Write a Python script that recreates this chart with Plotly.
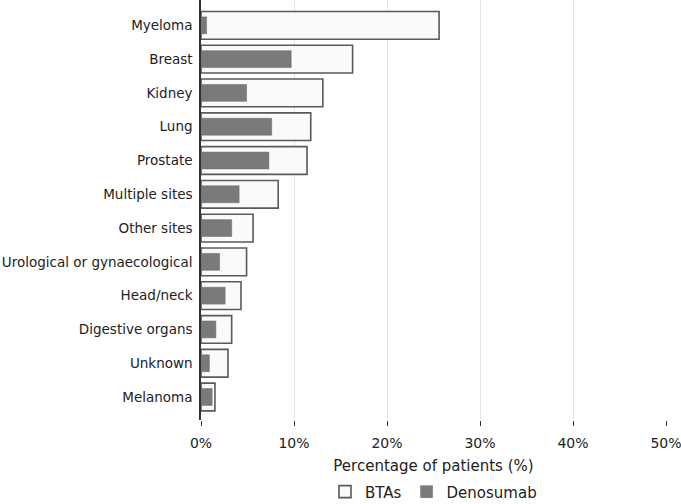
import plotly.graph_objects as go

categories = ["Myeloma", "Breast", "Kidney", "Lung", "Prostate", "Multiple sites",
              "Other sites", "Urological or gynaecological", "Head/neck",
              "Digestive organs", "Unknown", "Melanoma"]
btas = [25.6, 16.3, 13.1, 11.8, 11.4, 8.3, 5.6, 4.9, 4.3, 3.3, 2.9, 1.5]
denosumab = [0.6, 9.7, 4.9, 7.6, 7.3, 4.1, 3.3, 2.0, 2.6, 1.6, 0.9, 1.2]
x_ticks = [0, 10, 20, 30, 40, 50]
x_tick_labels = ["0%", "10%", "20%", "30%", "40%", "50%"]

cats_r = categories[::-1]
btas_r = btas[::-1]
den_r = denosumab[::-1]

fig = go.Figure()
fig.add_trace(go.Bar(
    y=cats_r, x=btas_r, orientation="h", name="BTAs", width=0.82,
    marker=dict(color="#fafafa", line=dict(color="#5a5a5a", width=1.6)),
))
fig.add_trace(go.Bar(
    y=cats_r, x=den_r, orientation="h", name="Denosumab", width=0.5,
    marker=dict(color="#7a7a7a", line=dict(color="#6a6a6a", width=0.5)),
))

fig.update_layout(
    width=681, height=504,
    barmode="overlay",
    plot_bgcolor="white", paper_bgcolor="white",
    margin=dict(l=201, r=15, t=0, b=84, autoexpand=False),
    font=dict(family="DejaVu Sans", size=13.5, color="#222"),
    showlegend=True,
    legend=dict(orientation="h", x=0.5, xanchor="center",
                yref="container", y=0.024, yanchor="middle",
                font=dict(size=15), itemwidth=30, traceorder="normal"),
    xaxis=dict(range=[0, 50], tickvals=x_ticks, ticktext=x_tick_labels,
               showgrid=True, gridcolor="#e4e4e4", gridwidth=1,
               ticks="outside", ticklen=5, tickcolor="#333",
               showline=False, zeroline=False, ticklabelstandoff=5,
               ticklabeloverflow="allow", automargin=False,
               title=dict(text="Percentage of patients (%)", font=dict(size=15), standoff=12),
               tickfont=dict(size=14)),
    yaxis=dict(type="category", categoryorder="array", categoryarray=cats_r,
               range=[-0.68, 11.75], showline=True, linecolor="#333", linewidth=1.5,
               ticks="", ticklabelstandoff=4, showgrid=False, tickfont=dict(size=13.5),
               automargin=False),
)

fig.write_html("out.html")
